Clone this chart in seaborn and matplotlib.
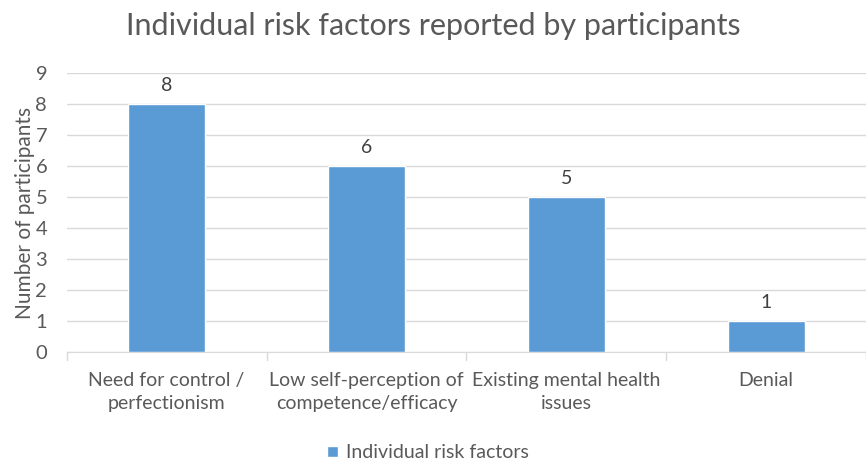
import matplotlib
matplotlib.use("Agg")
import matplotlib.pyplot as plt
import seaborn as sns
import pandas as pd

categories = ["Need for control /\nperfectionism",
              "Low self-perception of\ncompetence/efficacy",
              "Existing mental health\nissues",
              "Denial"]
counts = [8, 6, 5, 1]
series_name = "Individual risk factors"

df = pd.DataFrame({"category": categories, "count": counts, "series": series_name})

sns.set_style("white")
plt.rcParams['font.family'] = ['Lato', 'DejaVu Sans']

grey = "#595959"
fig = plt.figure(figsize=(8.66, 4.61), dpi=100)
ax = fig.add_axes([0.077, 0.236, 0.923, 0.606])

sns.barplot(data=df, x="category", y="count", hue="series", palette=["#5B9BD5"],
            width=0.385, saturation=1, ax=ax, zorder=3)

for c in ax.containers:
    ax.bar_label(c, padding=7, fontsize=14, color="#404040")

ax.set_ylim(0, 9)
ax.set_yticks(range(0, 10))
ax.set_xlim(-0.5, 3.5)
ax.yaxis.grid(True, color="#D9D9D9", linewidth=1, zorder=0)
for s in ["top", "right", "left"]:
    ax.spines[s].set_visible(False)
ax.spines["bottom"].set_color("#D9D9D9")
ax.tick_params(axis="y", length=0, labelsize=14.5, labelcolor=grey, pad=14)
ax.tick_params(axis="x", length=0, labelsize=14, labelcolor=grey, pad=14)
for lbl in ax.get_xticklabels():
    lbl.set_linespacing(1.45)
# category separator ticks
for xb in [-0.5, 0.5, 1.5, 2.5, 3.5]:
    ax.plot([xb, xb], [0, -0.25], color="#D9D9D9", lw=1, clip_on=False)

ax.set_xlabel("")
ax.set_ylabel("Number of participants", fontsize=15, color=grey, labelpad=0)
fig.suptitle("Individual risk factors reported by participants", fontsize=22,
             color=grey, y=0.975)

ax.legend(loc="center", bbox_to_anchor=(0.452, -0.36), frameon=False,
          fontsize=14, labelcolor=grey, handlelength=0.55, handleheight=0.55,
          handletextpad=0.4)

fig.savefig("out.png", dpi=100)
